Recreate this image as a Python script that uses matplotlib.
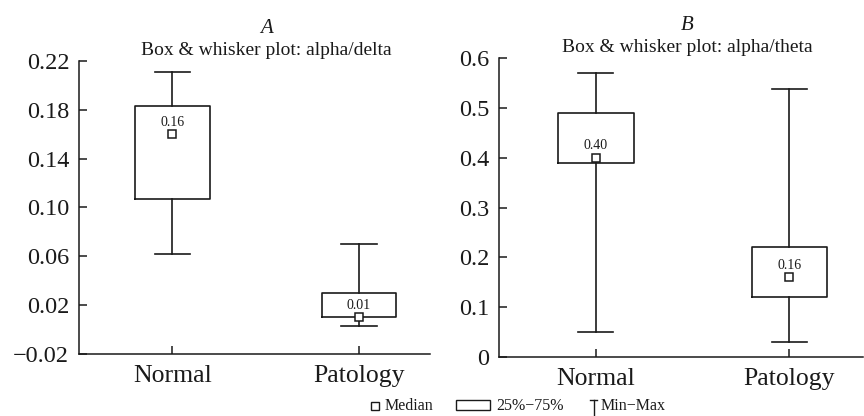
import matplotlib
matplotlib.use("Agg")
import matplotlib.pyplot as plt
from matplotlib.patches import Rectangle
from matplotlib.lines import Line2D

plt.rcParams['font.family'] = 'serif'
plt.rcParams['font.serif'] = ['Liberation Serif', 'DejaVu Serif']

groups = ["Normal", "Patology"]

# panel A: alpha/delta
a_min = [0.062, 0.003]
a_q1 = [0.107, 0.010]
a_med = [0.16, 0.01]
a_q3 = [0.183, 0.030]
a_max = [0.211, 0.070]
a_ticks = [-0.02, 0.02, 0.06, 0.10, 0.14, 0.18, 0.22]
a_ticklabels = ["\u22120.02", "0.02", "0.06", "0.10", "0.14", "0.18", "0.22"]

# panel B: alpha/theta
b_min = [0.05, 0.03]
b_q1 = [0.39, 0.12]
b_med = [0.40, 0.16]
b_q3 = [0.49, 0.22]
b_max = [0.57, 0.538]
b_ticks = [0, 0.1, 0.2, 0.3, 0.4, 0.5, 0.6]
b_ticklabels = ["0", "0.1", "0.2", "0.3", "0.4", "0.5", "0.6"]

W, H = 864, 416


def draw_panel(ax, mins, q1, med, q3, maxs, ticks, ticklabels, ylim,
               letter, title, tx, width, capw):
    stats = []
    for i in range(len(groups)):
        stats.append(dict(med=med[i], q1=q1[i], q3=q3[i],
                          whislo=mins[i], whishi=maxs[i], fliers=[]))
    pos = list(range(len(groups)))
    ax.bxp(stats, positions=pos, widths=width, capwidths=capw,
           showfliers=False,
           boxprops=dict(color='#1a1a1a', linewidth=1.2),
           whiskerprops=dict(color='#1a1a1a', linewidth=1.2),
           capprops=dict(color='#1a1a1a', linewidth=1.2),
           medianprops=dict(linewidth=0))
    ax.plot(pos, med, 's', ms=6, mfc='white', mec='#1a1a1a', mew=1.1,
            ls='none', zorder=5)
    for p, m in zip(pos, med):
        ax.annotate("%.2f" % m, (p, m), xytext=(0, 4), textcoords='offset points',
                    ha='center', va='bottom', fontsize=10, color='#1a1a1a')
    ax.set_xlim(-0.5, 1.38)
    ax.set_ylim(*ylim)
    ax.set_yticks(ticks)
    ax.set_yticklabels(ticklabels)
    ax.set_xticks(pos)
    ax.set_xticklabels(groups)
    ax.spines['top'].set_visible(False)
    ax.spines['right'].set_visible(False)
    for s in ('left', 'bottom'):
        ax.spines[s].set_linewidth(1.1)
        ax.spines[s].set_color('#1a1a1a')
    ax.tick_params(axis='y', direction='in', length=6, width=1.1,
                   labelsize=17.5, pad=7, colors='#1a1a1a')
    ax.tick_params(axis='x', direction='in', length=6, width=1.1,
                   labelsize=18.5, pad=8, colors='#1a1a1a')
    ax.text(tx, 1.0 + 33 / 300, letter, transform=ax.transAxes, ha='center',
            va='center', fontsize=15, style='italic', color='#1a1a1a')
    ax.text(tx, 1.0 + 11 / 300, title, transform=ax.transAxes, ha='center',
            va='center', fontsize=14, color='#1a1a1a')


fig = plt.figure(figsize=(8.64, 4.16), dpi=100)
ax1 = fig.add_axes([79 / W, 1 - 354 / H, (430 - 79) / W, (354 - 61) / H])
ax2 = fig.add_axes([499 / W, 1 - 356.7 / H, (863 - 499) / W, (356.7 - 58.3) / H])

draw_panel(ax1, a_min, a_q1, a_med, a_q3, a_max, a_ticks, a_ticklabels,
           (-0.02, 0.22), "A", "Box & whisker plot: alpha/delta", 0.533, 0.40, 0.19)
draw_panel(ax2, b_min, b_q1, b_med, b_q3, b_max, b_ticks, b_ticklabels,
           (0, 0.6), "B", "Box & whisker plot: alpha/theta", 0.516, 0.39, 0.18)

# legend drawn at the bottom in figure coordinates
ly = 1 - 405.5 / H
fig.add_artist(Line2D([375 / W], [ly], marker='s', ms=6, mfc='white',
                      mec='#1a1a1a', mew=1.0, transform=fig.transFigure))
fig.text(385 / W, ly, "Median", ha='left', va='center', fontsize=11.5, color='#1a1a1a')
fig.add_artist(Rectangle((456 / W, 1 - 410 / H), 34 / W, 10 / H, fill=False,
                         ec='#1a1a1a', lw=1.0, transform=fig.transFigure))
fig.text(496 / W, ly, "25%\u221275%", ha='left', va='center', fontsize=11.5, color='#1a1a1a')
fig.add_artist(Line2D([593.5 / W, 593.5 / W], [1 - 400 / H, 0], color='#1a1a1a',
                      lw=1.0, transform=fig.transFigure))
fig.add_artist(Line2D([590 / W, 597 / W], [1 - 400 / H, 1 - 400 / H], color='#1a1a1a',
                      lw=1.0, transform=fig.transFigure))
fig.text(601 / W, ly, "Min\u2212Max", ha='left', va='center', fontsize=11.5, color='#1a1a1a')

fig.savefig("out.png", dpi=100)
